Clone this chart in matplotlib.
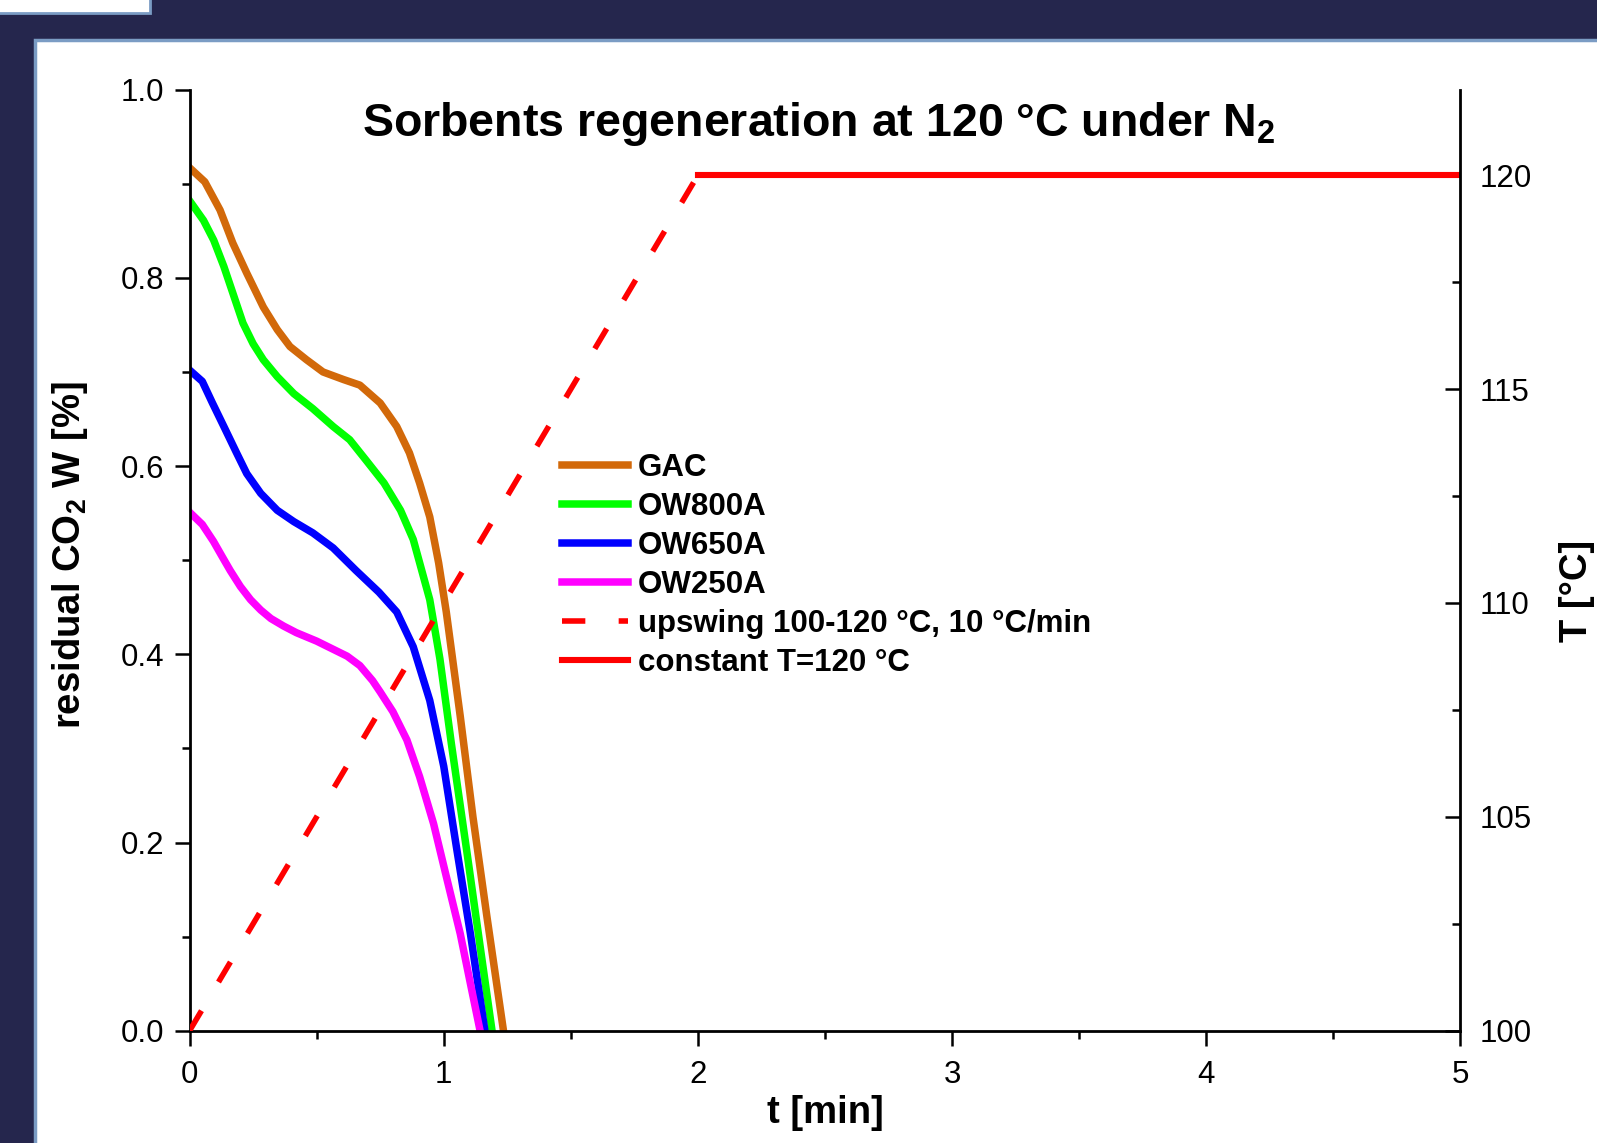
import matplotlib
matplotlib.use('Agg')
import matplotlib.pyplot as plt
from matplotlib.patches import Rectangle
from matplotlib.ticker import MultipleLocator

plt.rcParams['font.family'] = ['Liberation Sans', 'DejaVu Sans']
plt.rcParams['mathtext.fontset'] = 'custom'
plt.rcParams['mathtext.rm'] = 'Liberation Sans'
plt.rcParams['mathtext.bf'] = 'Liberation Sans:bold'

# residual CO2 curves
t_gac = [0, 0.06, 0.12, 0.17, 0.225, 0.29, 0.345, 0.395, 0.46, 0.525, 0.605, 0.67,
         0.75, 0.815, 0.865, 0.905, 0.945, 0.98, 1.01, 1.065, 1.115, 1.17, 1.235]
w_gac = [0.917, 0.902, 0.872, 0.837, 0.805, 0.769, 0.745, 0.727, 0.713, 0.700, 0.692, 0.686,
         0.667, 0.642, 0.614, 0.582, 0.546, 0.497, 0.445, 0.334, 0.227, 0.121, 0.0]

t_800 = [0, 0.055, 0.095, 0.135, 0.17, 0.21, 0.25, 0.29, 0.345, 0.41, 0.485, 0.565,
         0.63, 0.695, 0.765, 0.83, 0.88, 0.945, 0.985, 1.03, 1.09, 1.145, 1.19]
w_800 = [0.882, 0.861, 0.840, 0.812, 0.784, 0.752, 0.730, 0.713, 0.695, 0.677, 0.661, 0.642,
         0.628, 0.606, 0.582, 0.553, 0.522, 0.458, 0.395, 0.305, 0.192, 0.086, 0.0]

t_650 = [0, 0.05, 0.09, 0.135, 0.185, 0.225, 0.28, 0.345, 0.41, 0.485, 0.565, 0.655,
         0.745, 0.815, 0.88, 0.945, 1.0, 1.05, 1.105, 1.162]
w_650 = [0.702, 0.690, 0.667, 0.642, 0.614, 0.592, 0.571, 0.553, 0.541, 0.529, 0.513, 0.489,
         0.466, 0.445, 0.408, 0.351, 0.281, 0.195, 0.103, 0.0]

t_250 = [0, 0.05, 0.094, 0.13, 0.16, 0.2, 0.24, 0.28, 0.32, 0.37, 0.42, 0.5, 0.56, 0.62,
         0.67, 0.72, 0.75, 0.8, 0.855, 0.905, 0.96, 1.01, 1.065, 1.105, 1.143]
w_250 = [0.551, 0.538, 0.520, 0.503, 0.489, 0.472, 0.458, 0.447, 0.438, 0.430, 0.423, 0.414,
         0.406, 0.398, 0.388, 0.372, 0.360, 0.339, 0.309, 0.270, 0.220, 0.164, 0.103, 0.050, 0.0]

# temperature programme
t_ramp = [0, 2]
T_ramp = [100, 120]
t_const = [2, 5]
T_const = [120, 120]

fig = plt.figure(figsize=(15.97, 11.43), dpi=100)
fig.patch.set_facecolor('#25264d')

# white slide panel + little white box top-left (behind the axes)
fig.patches.append(Rectangle((35 / 1597, -0.01), 1.0, 1 - 40 / 1143 + 0.01, transform=fig.transFigure,
                             facecolor='white', edgecolor='#7b9cc4', lw=2.5, zorder=-5))
fig.patches.append(Rectangle((-0.01, 1 - 13 / 1143), 150 / 1597 + 0.01, 0.05, transform=fig.transFigure,
                             facecolor='white', edgecolor='#7b9cc4', lw=2, zorder=-5))

ax = fig.add_axes([0.1187, 0.0982, 0.7958, 0.8234])
ax.patch.set_alpha(0)
ax2 = ax.twinx()

lw = 5.4
l1, = ax.plot(t_gac, w_gac, color='#d2690a', lw=lw, label='GAC', solid_joinstyle='round')
l2, = ax.plot(t_800, w_800, color='#00ff00', lw=lw, label='OW800A', solid_joinstyle='round')
l3, = ax.plot(t_650, w_650, color='#0000ff', lw=lw, label='OW650A', solid_joinstyle='round')
l4, = ax.plot(t_250, w_250, color='#ff00ff', lw=lw, label='OW250A', solid_joinstyle='round')

l5, = ax2.plot(t_ramp, T_ramp, color='#ff0000', lw=4, dashes=(4.2, 6),
               label='upswing 100-120 °C, 10 °C/min')
l6, = ax2.plot(t_const, T_const, color='#ff0000', lw=4.4, label='constant T=120 °C')

ax.set_xlim(0, 5)
ax.set_ylim(0, 1.0)
ax2.set_ylim(100, 122)

ax.xaxis.set_major_locator(MultipleLocator(1))
ax.xaxis.set_minor_locator(MultipleLocator(0.5))
ax.yaxis.set_major_locator(MultipleLocator(0.2))
ax.yaxis.set_minor_locator(MultipleLocator(0.1))
ax2.yaxis.set_major_locator(MultipleLocator(5))
ax2.yaxis.set_minor_locator(MultipleLocator(2.5))

ax.set_xticks(range(0, 6))
ax.set_xticklabels(['0', '1', '2', '3', '4', '5'])
ax.set_yticks([0, 0.2, 0.4, 0.6, 0.8, 1.0])
ax.set_yticklabels(['0.0', '0.2', '0.4', '0.6', '0.8', '1.0'])

for a in (ax, ax2):
    a.spines['top'].set_visible(False)
    for s in a.spines.values():
        s.set_linewidth(2)
ax.spines['right'].set_visible(False)
ax2.spines['left'].set_visible(False)
ax2.spines['bottom'].set_visible(False)

ax.tick_params(axis='both', which='major', direction='out', length=11, width=1.8,
               labelsize=22.5, pad=7)
ax.tick_params(axis='x', which='major', pad=10)
ax.tick_params(axis='both', which='minor', direction='out', length=6, width=1.8)
ax2.tick_params(axis='y', which='major', direction='in', length=11, width=1.8,
                labelsize=22.5, pad=14)
ax2.tick_params(axis='y', which='minor', direction='in', length=5.5, width=1.8)

ax.set_xlabel('t [min]', fontsize=27.5, fontweight='bold', labelpad=4)
ax.set_ylabel(r'residual CO$_\mathbf{2}$ W [%]', fontsize=27.5, fontweight='bold', labelpad=22)
ax.yaxis.label.set_y(0.505)
ax2.set_ylabel('T [°C]', fontsize=27.5, fontweight='bold', labelpad=19)
ax2.yaxis.label.set_y(0.4675)

ax.text(0.495, 0.951, r'Sorbents regeneration at 120 °C under N$_\mathbf{2}$',
        transform=ax.transAxes, ha='center', va='baseline', fontsize=33.5, fontweight='bold')

leg = ax2.legend(handles=[l1, l2, l3, l4, l5, l6], loc='upper left',
                 bbox_to_anchor=(0.293, 0.614), frameon=False, borderpad=0, borderaxespad=0,
                 handlelength=2.12, handletextpad=0.3, labelspacing=0.29,
                 prop={'size': 22.5, 'weight': 'bold'})

fig.savefig('out.png', dpi=100, facecolor=fig.get_facecolor())
